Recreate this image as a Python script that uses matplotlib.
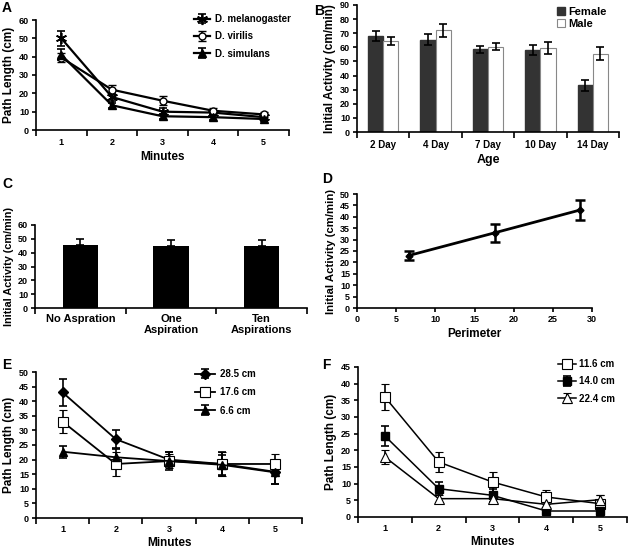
import numpy as np
import matplotlib
matplotlib.use("Agg")
import matplotlib.pyplot as plt

plt.rcParams['font.family'] = ['Liberation Sans', 'DejaVu Sans']
plt.rcParams['font.weight'] = 'bold'
plt.rcParams['axes.labelweight'] = 'bold'

# ---- data ----
minutes = [1, 2, 3, 4, 5]

# A
mel = [50, 18, 10, 9.5, 7]
mel_err = [4, 2, 2, 1.5, 1.5]
vir = [39.5, 22, 16, 10.5, 8.5]
vir_err = [2.5, 2.5, 2.5, 1.5, 1.5]
sim = [41, 13.5, 7.5, 7, 6]
sim_err = [3, 1.5, 1.5, 1.5, 1]

# B
ages = ['2 Day', '4 Day', '7 Day', '10 Day', '14 Day']
female = [68, 65.5, 58.5, 58, 33]
female_err = [3.5, 4, 2.5, 3.5, 4]
male = [64.5, 72, 60.5, 59.5, 55.5]
male_err = [3, 4.5, 2.5, 4.5, 4.5]

# C
treatments = ['No Aspration', 'One\nAspiration', 'Ten\nAspirations']
activity = [45.5, 44.5, 44.5]
activity_err = [4.5, 4.5, 4.5]

# D
perimeter = [6.6, 17.6, 28.5]
init_act = [23, 33, 43]
init_err = [2, 4, 4.5]

# E
e285 = [43, 27, 20, 18.5, 15.8]
e285_err = [4.5, 3, 2.5, 4, 4]
e176 = [33, 18.5, 19.5, 18.5, 18.5]
e176_err = [4, 4, 2.5, 4, 3.5]
e66 = [22.7, 20.8, 19.5, 18.2, 15.6]
e66_err = [2, 3, 3, 3.5, 4]

# F
f116 = [36, 16.5, 10.5, 6, 4]
f116_err = [4, 3, 3, 2, 2.5]
f140 = [24.3, 8.5, 6.5, 1.8, 1.8]
f140_err = [3, 2, 2, 1, 1.5]
f224 = [18, 5.5, 5.5, 3.8, 5.2]
f224_err = [2, 1, 1, 1, 1.5]

fig = plt.figure(figsize=(6.3, 5.49), dpi=100)
W, H = 630.0, 549.0


def box(x0, x1, ytop, ybot):
    return [x0 / W, 1 - ybot / H, (x1 - x0) / W, (ybot - ytop) / H]


def style(ax, fs=6.5):
    ax.spines['top'].set_visible(False)
    ax.spines['right'].set_visible(False)
    ax.spines['left'].set_linewidth(1.2)
    ax.spines['bottom'].set_linewidth(1.2)
    ax.tick_params(labelsize=fs, width=1.2, length=3, pad=2)


def cat_axis(ax, n, labels, fs=6.5):
    ax.set_xlim(0.5, n + 0.5)
    ax.set_xticks(np.arange(1, n + 1))
    ax.set_xticklabels(labels)
    ax.set_xticks(np.arange(0.5, n + 1, 1), minor=True)
    ax.tick_params(axis='x', which='major', length=0, pad=6, labelsize=fs)
    ax.tick_params(axis='x', which='minor', length=4, width=1.2)


ebkw = dict(ecolor='black', elinewidth=1.2, capsize=3, capthick=1.2)


def leg(ax, x, y, fs, hl, ls, tp=0.3, **kw):
    ax.legend(loc='upper left', bbox_to_anchor=(x / W, 1 - y / H), bbox_transform=fig.transFigure,
              frameon=False, fontsize=fs, handlelength=hl, labelspacing=ls,
              handletextpad=tp, borderaxespad=0, borderpad=0, **kw)


# ---- A ----
axA = fig.add_axes(box(36, 289, 20, 130))
style(axA)
axA.errorbar(minutes, mel, yerr=mel_err, color='black', lw=1.6, marker=(6, 2, 0),
             ms=8, mew=1.2, label='D. melanogaster', **ebkw)
axA.errorbar(minutes, vir, yerr=vir_err, color='black', lw=1.6, marker='o', ms=5,
             mfc='white', mew=1, label='D. virilis', **ebkw)
axA.errorbar(minutes, sim, yerr=sim_err, color='black', lw=1.6, marker='^', ms=6,
             label='D. simulans', **ebkw)
axA.set_ylim(0, 60)
axA.set_yticks(range(0, 61, 10))
cat_axis(axA, 5, [str(m) for m in minutes])
axA.set_xlabel('Minutes', fontsize=8.5, labelpad=3)
axA.set_ylabel('Path Length (cm)', fontsize=8.5, labelpad=3)
leg(axA, 194, 14, 7, 1.6, 0.75, tp=0.6)

# ---- B ----
axB = fig.add_axes(box(357, 619, 5, 132))
style(axB)
xb = np.arange(1, 6)
axB.bar(xb - 0.145, female, width=0.29, color='#333333', edgecolor='#333333',
        yerr=female_err, error_kw=ebkw, label='Female')
axB.bar(xb + 0.145, male, width=0.29, color='white', edgecolor='#888888', lw=0.8,
        yerr=male_err, error_kw=ebkw, label='Male')
axB.set_ylim(0, 90)
axB.set_yticks(range(0, 91, 10))
cat_axis(axB, 5, ages, fs=7)
axB.set_xlabel('Age', fontsize=9, labelpad=3)
axB.set_ylabel('Initial Activity (cm/min)', fontsize=8.5, labelpad=3)
leg(axB, 557, 7, 8, 0.7, 0.2, handleheight=0.7)

# ---- C ----
axC = fig.add_axes(box(35, 307, 225, 308))
style(axC)
axC.bar([1, 2, 3], activity, width=0.39, color='black', yerr=[[0, 0, 0], activity_err],
        error_kw=ebkw)
axC.set_ylim(0, 60)
axC.set_yticks(range(0, 61, 10))
cat_axis(axC, 3, treatments, fs=8)
axC.tick_params(axis='x', which='major', pad=4)
axC.set_ylabel('Initial Activity (cm/min)', fontsize=7.8, labelpad=3)

# ---- D ----
axD = fig.add_axes(box(357, 592, 194, 308))
style(axD)
axD.errorbar(perimeter, init_act, yerr=init_err, color='black', lw=2, marker='D', ms=3.5,
             ecolor='black', elinewidth=1.8, capsize=3.5, capthick=1.8)
axD.set_xlim(0, 30)
axD.set_ylim(0, 50)
axD.set_xticks(range(0, 31, 5))
axD.set_yticks(range(0, 51, 5))
axD.set_xlabel('Perimeter', fontsize=8.5, labelpad=3)
axD.set_ylabel('Initial Activity (cm/min)', fontsize=8.2, labelpad=3)

# ---- E ----
axE = fig.add_axes(box(36, 302, 372, 518))
style(axE)
axE.errorbar(minutes, e285, yerr=e285_err, color='black', lw=1.3, marker='D', ms=5,
             label='28.5 cm', **ebkw)
axE.errorbar(minutes, e176, yerr=e176_err, color='black', lw=1.3, marker='s', ms=7,
             mfc='white', mew=0.8, label='17.6 cm', **ebkw)
axE.errorbar(minutes, e66, yerr=e66_err, color='black', lw=1.3, marker='^', ms=6,
             label='6.6 cm', **ebkw)
axE.set_ylim(0, 50)
axE.set_yticks(range(0, 51, 5))
cat_axis(axE, 5, [str(m) for m in minutes])
axE.tick_params(axis='x', which='major', pad=5)
axE.set_xlabel('Minutes', fontsize=8.5, labelpad=2)
axE.set_ylabel('Path Length (cm)', fontsize=8.5, labelpad=3)
leg(axE, 195, 369, 7, 2.1, 0.85, tp=0.5)

# ---- F ----
axF = fig.add_axes(box(358, 627, 367, 517))
style(axF)
axF.errorbar(minutes, f116, yerr=f116_err, color='black', lw=1.1, marker='s', ms=7,
             mfc='white', mew=0.8, label='11.6 cm', **ebkw)
axF.errorbar(minutes, f140, yerr=f140_err, color='black', lw=1.1, marker='s', ms=6,
             label='14.0 cm', **ebkw)
axF.errorbar(minutes, f224, yerr=f224_err, color='black', lw=1.1, marker='^', ms=7,
             mfc='white', mew=0.8, label='22.4 cm', **ebkw)
axF.set_ylim(0, 45)
axF.set_yticks(range(0, 46, 5))
cat_axis(axF, 5, [str(m) for m in minutes])
axF.tick_params(axis='x', which='major', pad=5)
axF.set_xlabel('Minutes', fontsize=8.5, labelpad=2)
axF.set_ylabel('Path Length (cm)', fontsize=8.5, labelpad=3)
leg(axF, 558, 359, 7, 1.8, 0.75, tp=0.4)

# panel letters
for lab, x, y in [('A', 2, 12), ('B', 314, 15), ('C', 2, 188), ('D', 322, 183),
                  ('E', 2, 369), ('F', 322, 369)]:
    fig.text(x / W, 1 - y / H, lab, fontsize=10, fontweight='bold', va='baseline')

fig.savefig('out.png', dpi=100)
